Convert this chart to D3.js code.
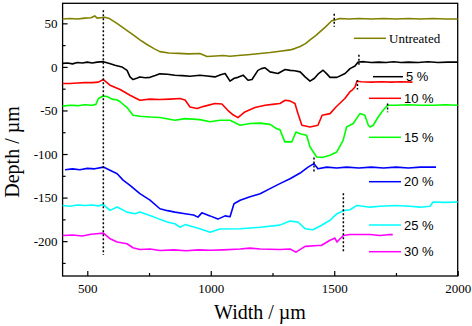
<!DOCTYPE html>
<html>
<head>
<meta charset="utf-8">
<script src="https://cdn.jsdelivr.net/npm/d3@7"></script>
<style>
  html, body { margin: 0; padding: 0; background: #fff; }
  svg { display: block; }
</style>
</head>
<body>
<svg id="chart" width="472" height="326"></svg>
<script>
'use strict';

// ─── Data (µm) ────────────────────────────────────────────────────────────────
const untreated = [[400,55],[430,55.5],[460,55],[490,56],[515,56.5],[530,58.5],[540,56],[555,56.5],[570,57],[590,55.5],[620,50],[660,42],[690,36],[713,31],[740,26],[770,21],[794,17.5],[830,16],[870,15.5],[910,15],[956,15.3],[985,12],[1020,12.5],[1050,13],[1078,12.3],[1110,13],[1150,14],[1200,15.3],[1240,16.5],[1280,18],[1321,19.5],[1340,21],[1362,23.5],[1385,27],[1402,31],[1425,36],[1443,40.5],[1465,46],[1490,53],[1505,54],[1523,55.5],[1560,55],[1600,55.5],[1650,55],[1700,55.5],[1750,55],[1800,55.5],[1850,55],[1900,55.5],[1950,55],[2000,55]];

const p5 = [[400,4],[420,4.5],[440,3.5],[460,5],[480,4.5],[500,5.5],[520,4.5],[540,5.5],[565,6],[590,4],[612,2],[640,0],[661,-4],[673,-11.5],[685,-14.5],[700,-13],[713,-11.5],[735,-12.5],[754,-12],[775,-10],[794,-8],[825,-8.5],[855,-9.5],[885,-10],[916,-10.7],[956,-9.5],[985,-10.5],[1017,-11.5],[1040,-9],[1058,-7.6],[1078,-16.4],[1095,-13],[1110,-12],[1131,-9.5],[1151,-15.3],[1167,-14.5],[1191,-4],[1205,-2],[1220,-1],[1240,-5.7],[1272,-7.6],[1301,-3],[1321,-4],[1340,-4.5],[1362,-5.7],[1382,-11.5],[1402,-16.4],[1420,-13],[1434,-8.4],[1455,-3.8],[1470,-8],[1483,-12],[1511,-12],[1544,-7.6],[1564,-2],[1584,1],[1597,5.7],[1620,6],[1650,5],[1680,5.5],[1710,5],[1740,6],[1770,5],[1800,5.5],[1840,5],[1880,6],[1920,5],[1960,5.5],[2000,5.5]];

const p10 = [[400,-19],[430,-19],[460,-18.5],[490,-18],[520,-18],[545,-17.5],[565,-14.5],[592,-21],[633,-26],[673,-32.5],[713,-38.3],[754,-37],[794,-37.5],[835,-37],[875,-36.3],[896,-38],[916,-46],[944,-47.8],[976,-45],[1017,-42],[1045,-42.5],[1069,-49.8],[1090,-55],[1110,-58.2],[1138,-51.7],[1179,-46.7],[1220,-44],[1250,-43],[1280,-42],[1301,-38.3],[1320,-39],[1341,-42],[1353,-53.6],[1369,-67],[1402,-69],[1434,-67],[1451,-55.5],[1483,-53.6],[1507,-46],[1543,-36.3],[1563,-28.7],[1575,-26],[1584,-23],[1592,-16.4],[1610,-17],[1650,-17.5],[1690,-17],[1730,-17.5],[1770,-17],[1817,-17.5]];

const p15 = [[400,-45],[430,-44],[460,-44.5],[490,-43.5],[520,-44],[535,-43],[545,-36.3],[565,-33.5],[580,-34],[600,-37],[621,-38],[633,-40],[661,-46.7],[685,-55.5],[713,-56.7],[754,-57.5],[794,-58],[855,-61.3],[896,-59.4],[956,-60.5],[997,-63],[1037,-61.3],[1078,-61.3],[1119,-67],[1159,-65],[1200,-64.5],[1240,-66],[1267,-71],[1280,-72],[1300,-86],[1328,-86],[1345,-74.7],[1365,-77],[1388,-78.5],[1402,-92],[1429,-103.4],[1454,-103.8],[1483,-101.5],[1510,-97.7],[1536,-84.3],[1550,-69],[1577,-65],[1604,-53.6],[1624,-55.5],[1638,-67],[1645,-69],[1658,-67],[1678,-57.5],[1698,-49.8],[1716,-44],[1750,-44],[1800,-43.5],[1850,-44],[1900,-44],[1950,-43.5],[2000,-44]];

const p20 = [[410,-118],[440,-117],[470,-118],[500,-116.5],[530,-117],[565,-115],[592,-118.7],[621,-122.6],[645,-130],[673,-136],[713,-145.5],[754,-153],[794,-162.8],[825,-165],[855,-166.7],[896,-168.5],[930,-170],[948,-172.4],[964,-167.5],[997,-171],[1029,-174.7],[1058,-171],[1078,-172],[1094,-157],[1119,-153],[1159,-149],[1200,-145.5],[1240,-139.7],[1280,-134],[1321,-128.3],[1362,-121.8],[1394,-115],[1418,-111],[1434,-117],[1470,-115],[1510,-116],[1550,-115],[1600,-116],[1650,-115],[1700,-116],[1750,-115],[1800,-116],[1850,-115],[1912,-115]];

const p25 = [[400,-159],[430,-160],[460,-158.5],[490,-159],[520,-158.5],[545,-159.5],[565,-158],[592,-164.7],[621,-160.8],[661,-166.7],[693,-168.5],[713,-166.5],[754,-170.5],[794,-175],[823,-178],[855,-180],[875,-184],[896,-181],[956,-185.7],[997,-189.7],[1037,-186],[1119,-185.7],[1200,-184],[1280,-181.6],[1321,-177],[1353,-178],[1382,-185.7],[1414,-187],[1447,-182],[1483,-176],[1511,-168.5],[1537,-165],[1564,-164],[1592,-159],[1645,-161],[1686,-160],[1746,-159],[1807,-160],[1848,-161],[1888,-160],[1900,-155],[1950,-155.5],[2000,-155]];

const p30 = [[400,-193.5],[440,-193],[480,-194],[515,-192],[538,-191.5],[565,-190.8],[592,-197.2],[621,-201],[661,-203],[685,-207.6],[713,-209.5],[754,-209],[794,-210.7],[850,-210],[900,-211],[950,-210],[1000,-210.5],[1050,-210],[1119,-209],[1159,-208],[1200,-209],[1280,-209.5],[1321,-209],[1345,-212.6],[1382,-206],[1434,-205],[1447,-205],[1483,-199],[1503,-196.5],[1511,-201],[1537,-193.5],[1564,-192.4],[1645,-192.4],[1686,-193.5],[1726,-192.4],[1737,-192.5]];

const seriesData   = [untreated, p5, p10, p15, p20, p25, p30];
const seriesLabels = ['Untreated', '5 %', '10 %', '15 %', '20 %', '25 %', '30 %'];
const seriesColors = ['#808000', '#000000', '#ff0000', '#00ff00', '#0000ff', '#00ffff', '#ff00ff'];

// dotted markers: [x, yTop, yBottom]
const markers = [[565,65,-216],[1500,61,46],[1600,14,1],[1594,-15,-26],[1716,-42,-52],[1418,-104,-121],[1537,-145,-212]];

const xTicks = [500, 1000, 1500, 2000];
const yTicks = [50, 0, -50, -100, -150, -200];

// ─── Layout ───────────────────────────────────────────────────────────────────
const L = 62.6, R = 457.7, T = 3.3, B = 276;
const SERIF = '"Liberation Serif", "Times New Roman", serif';
const SANS  = '"Liberation Sans", Arial, sans-serif';

const svg = d3.select('#chart');
const x = d3.scaleLinear().domain([400, 2000]).range([L, R]);
const y = d3.scaleLinear().domain([-240, 73]).range([B, T]);

// ─── Axes (ticks inward) ──────────────────────────────────────────────────────
svg.append('g').attr('transform', `translate(0,${B})`)
  .call(d3.axisBottom(x).tickValues(xTicks).tickSizeInner(-5).tickSizeOuter(0).tickPadding(8)
    .tickFormat(d => String(d)));
svg.append('g').attr('transform', `translate(0,${B})`)
  .call(d3.axisBottom(x).tickValues([750, 1250, 1750]).tickSizeInner(-3).tickSizeOuter(0).tickFormat(''));

svg.append('g').attr('transform', `translate(${L},0)`)
  .call(d3.axisLeft(y).tickValues(yTicks).tickSizeInner(-5).tickSizeOuter(0).tickPadding(5)
    .tickFormat(d => d < 0 ? '-' + Math.abs(d) : String(d)));
svg.append('g').attr('transform', `translate(${L},0)`)
  .call(d3.axisLeft(y).tickValues([25, -25, -75, -125, -175, -225]).tickSizeInner(-3).tickSizeOuter(0).tickFormat(''));

svg.selectAll('.tick line').attr('stroke', '#000').attr('stroke-width', 1.2);
svg.selectAll('.tick text').attr('font-family', SERIF).attr('font-size', 13).attr('fill', '#000');
svg.selectAll('.domain').remove();

// frame
svg.append('rect')
  .attr('x', L).attr('y', T).attr('width', R - L).attr('height', B - T)
  .attr('fill', 'none').attr('stroke', '#000').attr('stroke-width', 1.3);

// ─── Curves ───────────────────────────────────────────────────────────────────
const line = d3.line().x(d => x(d[0])).y(d => y(d[1]));
seriesData.forEach((s, i) => {
  svg.append('path')
    .datum(s)
    .attr('d', line)
    .attr('fill', 'none')
    .attr('stroke', seriesColors[i])
    .attr('stroke-width', 1.6)
    .attr('stroke-linejoin', 'round');
});

// ─── Dotted markers ───────────────────────────────────────────────────────────
svg.append('g').selectAll('line').data(markers).join('line')
  .attr('x1', d => x(d[0])).attr('x2', d => x(d[0]))
  .attr('y1', d => y(d[1])).attr('y2', d => y(d[2]))
  .attr('stroke', '#000').attr('stroke-width', 1.5).attr('stroke-dasharray', '2,2');

// ─── Legend ───────────────────────────────────────────────────────────────────
const legendRows = [
  { x1: 354, x2: 386, y: 38.3 },
  { x1: 373, x2: 403, y: 76.7 },
  { x1: 369, x2: 401, y: 98.3 },
  { x1: 369, x2: 401, y: 137.3 },
  { x1: 369, x2: 401, y: 181.7 },
  { x1: 369, x2: 401, y: 225 },
  { x1: 369, x2: 401, y: 251.7 },
];
legendRows.forEach((r, i) => {
  svg.append('line')
    .attr('x1', r.x1).attr('x2', r.x2).attr('y1', r.y).attr('y2', r.y)
    .attr('stroke', seriesColors[i]).attr('stroke-width', 1.5);
  svg.append('text')
    .attr('x', r.x2 + 3).attr('y', r.y + 4.5)
    .attr('font-family', i === 0 ? SERIF : SANS)
    .attr('font-size', 13)
    .attr('fill', '#000')
    .text(seriesLabels[i]);
});

// ─── Axis titles ──────────────────────────────────────────────────────────────
svg.append('text')
  .attr('x', 260).attr('y', 319)
  .attr('text-anchor', 'middle')
  .attr('font-family', SERIF).attr('font-size', 20)
  .text('Width / µm');

svg.append('text')
  .attr('transform', 'translate(19,152) rotate(-90)')
  .attr('text-anchor', 'middle')
  .attr('font-family', SERIF).attr('font-size', 20)
  .text('Depth / µm');
</script>
</body>
</html>
